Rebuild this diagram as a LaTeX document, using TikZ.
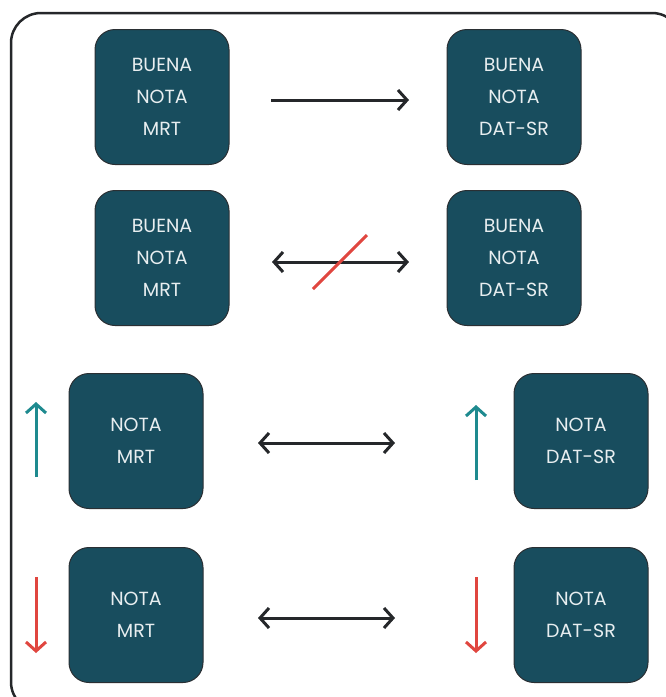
\documentclass[tikz,border=0pt]{standalone}
\usepackage{fontspec}
\setmainfont{Poppins}
\usetikzlibrary{arrows.meta}
\definecolor{boxfill}{HTML}{184D5E}
\definecolor{boxline}{HTML}{2A2F33}
\definecolor{inktxt}{HTML}{E8EEF0}
\definecolor{linkblk}{HTML}{25272A}
\definecolor{upteal}{HTML}{1E8A8F}
\definecolor{downred}{HTML}{E0463F}
\tikzset{
  card/.style={draw=boxline, line width=1pt, fill=boxfill, rounded corners=20pt,
    minimum width=134pt, minimum height=135pt, text=inktxt,
    align=center, font=\fontsize{19}{32}\selectfont},
  tip/.style={Straight Barb[length=9pt,width=20pt,line width=3pt]},
  link/.style={draw=linkblk, line width=3pt, -{Straight Barb[length=9pt,width=20pt,line width=3pt]}},
  duallink/.style={draw=linkblk, line width=3pt, {Straight Barb[length=9pt,width=20pt,line width=3pt]}-{Straight Barb[length=9pt,width=20pt,line width=3pt]}},
  trend/.style={line width=3pt, -{Straight Barb[length=9pt,width=20pt,line width=3pt]}},
}
\begin{document}
\begin{tikzpicture}[x=1pt,y=-1pt]
\useasboundingbox (0,0) rectangle (666,697);
% outer frame, partly running off the page
\begin{scope}
\clip (0,0) rectangle (666,697);
\draw[linkblk, line width=2.5pt, rounded corners=30pt] (11,13) rectangle (682,712);
\end{scope}

% row 1
\node[card] (mrtA) at (162,97) {BUENA\\NOTA\\MRT};
\node[card] (datA) at (514,97) {BUENA\\NOTA\\DAT-SR};
\coordinate (a1) at (271,100);
\coordinate (a2) at (409,100);
\draw[link] (a1) -- (a2);

% row 2
\node[card] (mrtB) at (162,258) {BUENA\\NOTA\\MRT};
\node[card] (datB) at (514,258) {BUENA\\NOTA\\DAT-SR};
\coordinate (b1) at (272,262);
\coordinate (b2) at (409,262);
\draw[duallink] (b1) -- (b2);
\coordinate (s1) at (313,289);
\coordinate (s2) at (367,235);
\draw[downred, line width=3pt] (s1) -- (s2);

% row 3
\node[card] (mrtC) at (136,441) {NOTA\\MRT};
\node[card] (datC) at (581,441) {NOTA\\DAT-SR};
\coordinate (c1) at (258,443);
\coordinate (c2) at (395,443);
\draw[duallink] (c1) -- (c2);
\coordinate (u1s) at (36,477);
\coordinate (u1e) at (36,402);
\coordinate (u2s) at (476,480);
\coordinate (u2e) at (476,405);
\draw[trend, upteal] (u1s) -- (u1e);
\draw[trend, upteal] (u2s) -- (u2e);

% row 4
\node[card] (mrtD) at (136,615) {NOTA\\MRT};
\node[card] (datD) at (581,615) {NOTA\\DAT-SR};
\coordinate (d1) at (258,618);
\coordinate (d2) at (395,618);
\draw[duallink] (d1) -- (d2);
\coordinate (w1s) at (36,577);
\coordinate (w1e) at (36,653);
\coordinate (w2s) at (476,577);
\coordinate (w2e) at (476,653);
\draw[trend, downred] (w1s) -- (w1e);
\draw[trend, downred] (w2s) -- (w2e);
\end{tikzpicture}
\end{document}
